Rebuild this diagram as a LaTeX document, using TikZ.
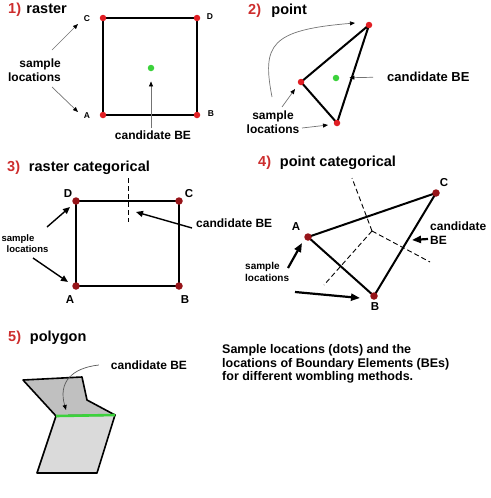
\documentclass[tikz,border=0pt]{standalone}
\usepackage{fontspec}
\setmainfont{Liberation Sans}
\usetikzlibrary{arrows.meta, positioning, calc}
\definecolor{numred}{RGB}{205,45,45}
\definecolor{dotred}{RGB}{225,30,35}
\definecolor{darkdot}{RGB}{150,20,25}
\definecolor{begreen}{RGB}{60,210,60}
\definecolor{polydark}{RGB}{192,192,192}
\definecolor{polylight}{RGB}{218,218,218}

\begin{document}
\begin{tikzpicture}[
    x=1pt, y=-1pt,
    title/.style={font=\fontsize{14.5}{16}\selectfont\bfseries, inner sep=0pt},
    num/.style={title, text=numred},
    lbl/.style={font=\fontsize{12}{13.5}\selectfont\bfseries, inner sep=0pt, align=center},
    smalllbl/.style={font=\fontsize{9.5}{11}\selectfont\bfseries, inner sep=0pt, align=left},
    corner/.style={font=\fontsize{8.5}{10}\selectfont\bfseries, inner sep=0pt},
    bigcorner/.style={font=\fontsize{11.5}{13}\selectfont\bfseries, inner sep=0pt},
    sdot/.style={circle, fill=dotred, inner sep=0pt, minimum size=6.5pt},
    cdot/.style={circle, fill=darkdot, inner sep=0pt, minimum size=7.5pt},
    bedot/.style={circle, fill=begreen, inner sep=0pt, minimum size=6.5pt},
    sqedge/.style={line width=2pt, line join=round},
    thinarr/.style={draw=black!55, line width=0.7pt, -{Triangle[length=5pt, width=4pt, color=black]}},
    midarr/.style={line width=1.4pt, -{Triangle[length=7pt, width=6pt]}},
    boldarr/.style={line width=2.2pt, -{Triangle[length=9pt, width=7pt]}},
    voronoi/.style={line width=0.9pt, dash pattern=on 5pt off 3pt}
  ]
    \useasboundingbox (0,0) rectangle (490,498);

    % --- 1) raster ---
    \node[num, anchor=base west] (n1) at (8,13) {1)};
    \node[title, anchor=base west] (t1) at ([xshift=5pt]n1.base east) {raster};
    \coordinate (r1C) at (103,18);
    \coordinate (r1D) at (197,18);
    \coordinate (r1A) at (103,115);
    \coordinate (r1B) at (197,115);
    \draw[sqedge] (r1A) -- (r1B) -- (r1D) -- (r1C) -- cycle;
    \node[sdot] (r1Cdot) at (r1C) {};
    \node[sdot] (r1Ddot) at (r1D) {};
    \node[sdot] (r1Adot) at (r1A) {};
    \node[sdot] (r1Bdot) at (r1B) {};
    \node[bedot] (r1BE) at (151,68) {};
    \node[corner] (r1Clab) at (87,19) {C};
    \node[corner] (r1Dlab) at (210,17) {D};
    \node[corner] (r1Alab) at (87,116) {A};
    \node[corner] (r1Blab) at (211,114) {B};
    \node[lbl, align=right, anchor=east] (r1samp) at (61,70) {sample\\locations};
    \node[lbl] (r1cand) at (153,135) {candidate BE};
    \coordinate (r1up) at (52,50);
    \coordinate (r1down) at (52,87);
    \draw[thinarr] (r1up) -- ([shift={(-9,5)}]r1Clab.center);
    \draw[thinarr] (r1down) -- ([shift={(-9,-4)}]r1Alab.center);
    \draw[thinarr, shorten <=2pt, shorten >=10pt] (r1cand.north -| r1BE) -- (r1BE);

    % --- 2) point ---
    \node[num, anchor=base west] (n2) at (248,14) {2)};
    \node[title, anchor=base west] (t2) at ([xshift=10pt]n2.base east) {point};
    \coordinate (p2T) at (369,25);
    \coordinate (p2L) at (301,82);
    \coordinate (p2B) at (337,123);
    \draw[sqedge] (p2L) -- (p2T) -- (p2B) -- cycle;
    \node[sdot] (p2Tdot) at (p2T) {};
    \node[sdot] (p2Ldot) at (p2L) {};
    \node[sdot] (p2Bdot) at (p2B) {};
    \node[bedot] (p2BE) at (336,78) {};
    \node[lbl, anchor=west, font=\fontsize{13}{14.5}\selectfont\bfseries] (p2cand) at (387,77) {candidate BE};
    \node[lbl] (p2samp) at (273,122) {sample\\locations};
    \draw[thinarr, shorten <=14pt, shorten >=10pt] (p2cand.west) -- (p2BE);
    \coordinate (p2curve) at (272,97);
    \draw[thinarr] (p2curve) .. controls (262,45) and (270,30) .. ([shift={(-14,-2)}]p2T);
    \draw[thinarr] ([shift={(9,-15)}]p2samp.center) -- ([shift={(-6,7)}]p2L);
    \draw[thinarr] ([shift={(29,6)}]p2samp.center) -- ([shift={(-9,2)}]p2B);

    % --- 3) raster categorical ---
    \node[num, anchor=base west] (n3) at (7,171) {3)};
    \node[title, anchor=base west] (t3) at ([xshift=8.5pt]n3.base east) {raster categorical};
    \coordinate (r3D) at (76,201);
    \coordinate (r3C) at (179,201);
    \coordinate (r3A) at (76,286);
    \coordinate (r3B) at (179,286);
    \draw[line width=1.5pt] (r3A) -- (r3B) -- (r3C) -- (r3D) -- cycle;
    \node[cdot] (r3Ddot) at (r3D) {};
    \node[cdot] (r3Cdot) at (r3C) {};
    \node[cdot] (r3Adot) at (r3A) {};
    \node[cdot] (r3Bdot) at (r3B) {};
    \node[bigcorner] (r3Dlab) at (68,194) {D};
    \node[bigcorner] (r3Clab) at (189,194) {C};
    \node[bigcorner] (r3Alab) at (70,300) {A};
    \node[bigcorner] (r3Blab) at (185,300) {B};
    \coordinate (r3top) at (128,178);
    \coordinate (r3bot) at (128,222);
    \draw[voronoi] (r3top) -- (r3bot);
    \node[lbl, anchor=west] (r3cand) at (196,223) {candidate BE};
    \draw[midarr] ([shift={(-4,5)}]r3cand.west) -- ([shift={(8,-10)}]r3bot);
    \node[smalllbl] (r3samp) at (25,244) {sample\\\hspace*{5pt}locations};
    \draw[midarr] ([shift={(22,-17)}]r3samp.center) -- ([shift={(-6,6)}]r3D);
    \draw[midarr] ([shift={(8,14)}]r3samp.center) -- ([shift={(-8,-4)}]r3A);

    % --- 4) point categorical ---
    \node[num, anchor=base west] (n4) at (258,166) {4)};
    \node[title, anchor=base west] (t4) at ([xshift=8.5pt]n4.base east) {point categorical};
    \coordinate (p4A) at (308,237);
    \coordinate (p4B) at (374,296);
    \coordinate (p4C) at (436,193);
    \coordinate (p4V) at (372,231);
    \draw[voronoi] (p4V) -- (352,178);
    \draw[voronoi] (p4V) -- (324,285);
    \draw[voronoi] (p4V) -- (430,262);
    \draw[sqedge] (p4A) -- (p4C) -- (p4B) -- cycle;
    \node[cdot] (p4Adot) at (p4A) {};
    \node[cdot] (p4Bdot) at (p4B) {};
    \node[cdot] (p4Cdot) at (p4C) {};
    \node[bigcorner] (p4Alab) at (296,227) {A};
    \node[bigcorner] (p4Blab) at (375,307) {B};
    \node[bigcorner] (p4Clab) at (444,183) {C};
    \node[lbl, align=left, anchor=west] (p4cand) at (430,233) {candidate\\BE};
    \draw[boldarr] ([shift={(-2,6)}]p4cand.west) -- ++(-16,1);
    \node[smalllbl, anchor=west, font=\fontsize{10}{12}\selectfont\bfseries] (p4samp) at (245,272) {sample\\locations};
    \draw[boldarr] ([shift={(43,-4)}]p4samp.west) -- ([shift={(-6,6)}]p4A);
    \draw[boldarr] ([shift={(50,20)}]p4samp.west) -- ([shift={(-14,2)}]p4B);

    % --- 5) polygon ---
    \node[num, anchor=base west] (n5) at (8,341) {5)};
    \node[title, anchor=base west] (t5) at ([xshift=8.5pt]n5.base east) {polygon};
    \coordinate (g5L) at (56,416);
    \coordinate (g5R) at (115,415);
    \draw[line width=1.6pt, line join=round, fill=polydark]
      (23,380) -- (82,377) -- (87,400) -- (g5R) -- (g5L) -- cycle;
    \draw[line width=1.6pt, line join=round, fill=polylight]
      (g5L) -- (g5R) -- (97,473) -- (37,473) -- cycle;
    \draw[line width=2.6pt, begreen] (g5L) -- (g5R);
    \node[lbl] (g5cand) at (149,365) {candidate BE};
    \draw[thinarr, draw=black!65] ([xshift=-12pt]g5cand.west) .. controls (72,368) and (58,382) .. (66,410);

    % --- Caption ---
    \node[lbl, align=left, anchor=north west, font=\fontsize{12.5}{13.4}\selectfont\bfseries] (caption) at (222,344.5)
      {Sample locations (dots) and the\\locations of Boundary Elements (BEs)\\for different wombling methods.};
  \end{tikzpicture}
\end{document}
